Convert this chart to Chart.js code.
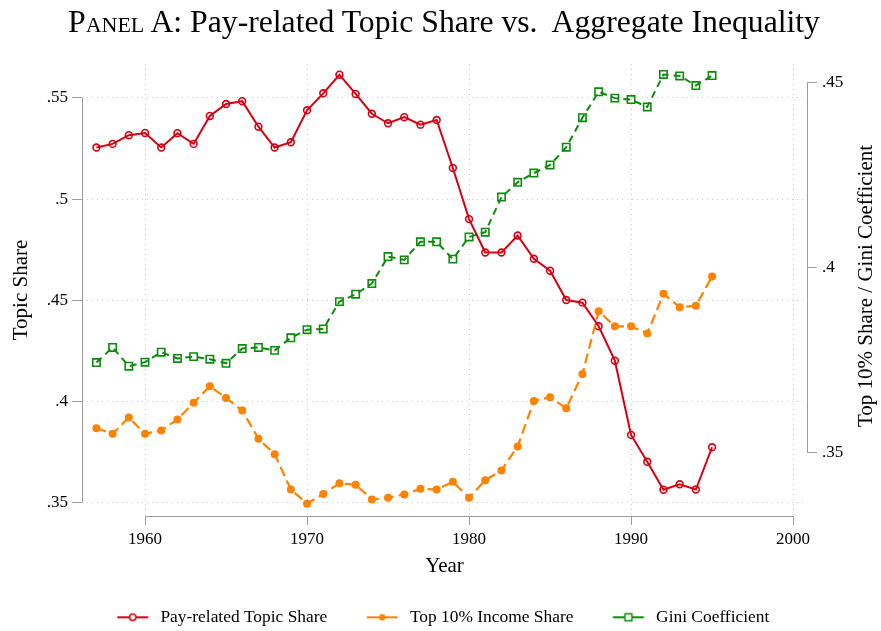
<!DOCTYPE html>
<html>
<head>
<meta charset="utf-8">
<title>Panel A: Pay-related Topic Share vs. Aggregate Inequality</title>
<script src="https://cdn.jsdelivr.net/npm/chart.js@4.4.1/dist/chart.umd.min.js"></script>
<style>
  html, body { margin: 0; padding: 0; background: #fff; }
  #wrap { position: relative; width: 881px; height: 631px; }
  #title {
    position: absolute; left: 0; top: 6px; width: 881px; box-sizing: border-box;
    padding-left: 7px; text-align: center; color: #000;
    font-family: "Liberation Serif", "Times New Roman", serif; font-size: 31.7px; line-height: 1;
  }
  .sc { font-variant: small-caps; }
</style>
</head>
<body>
<div id="wrap">
  <canvas id="chart" width="881" height="631"></canvas>
  <div id="title"><span class="sc">Panel</span> A: Pay-related Topic Share vs.&nbsp; Aggregate Inequality</div>
</div>
<script>
// values
const years = [1957, 1958, 1959, 1960, 1961, 1962, 1963, 1964, 1965, 1966,
  1967, 1968, 1969, 1970, 1971, 1972, 1973, 1974, 1975, 1976,
  1977, 1978, 1979, 1980, 1981, 1982, 1983, 1984, 1985, 1986,
  1987, 1988, 1989, 1990, 1991, 1992, 1993, 1994, 1995];

// left axis
const payTopicShare = [.5255, .5273, .5316, .5327, .5255, .5326, .5273, .5411, .547, .5484,
  .5358, .5255, .5281, .5439, .5523, .5615, .552, .5422, .5375, .5405,
  .5368, .5391, .5154, .4901, .4736, .4736, .482, .4705, .4646, .4501,
  .4488, .4371, .4201, .3834, .3701, .3563, .359, .3564, .3773];

// right axis
const top10Share = [.3565, .355, .3594, .355, .3559, .3589, .3634, .3679, .3647, .3613,
  .3537, .3495, .3399, .3361, .3387, .3416, .3412, .3372, .3377, .3386,
  .3401, .3399, .342, .3377, .3424, .3451, .3516, .3639, .3649, .3619,
  .3712, .3882, .3841, .3841, .3822, .3929, .3893, .3897, .3976];

const giniCoef = [.3743, .3784, .3733, .3744, .3771, .3754, .3759, .3752, .3741, .3781,
  .3784, .3776, .381, .3832, .3834, .3908, .3928, .3957, .403, .4021,
  .407, .407, .4023, .4083, .4096, .4191, .4231, .4256, .4278, .4326,
  .4406, .4476, .4459, .4455, .4435, .4523, .4519, .4493, .452];

const yearTicks = [1960, 1970, 1980, 1990, 2000];
const topicTicks = [.35, .4, .45, .5, .55];
const inequalityTicks = [.35, .4, .45];
const seriesNames = ['Pay-related Topic Share', 'Top 10% Income Share', 'Gini Coefficient'];
const rightTitle = 'Top 10% Share / Gini Coefficient';

const serif = '"Liberation Serif", "Times New Roman", serif';
const RED = '#d50012', ORANGE = '#ff8200', GREEN = '#0c8a0c';
const AXIS = '#9c9c9c', GRID = '#cbcbcb';
const PLOT = { left: 82, right: 807, top: 64, bottom: 516 };
const PAD = { top: 64, left: 0, right: 30, bottom: -5 };

const noLeadZero = v => String(v).replace(/^0\./, '.');
const pairs = vals => years.map((yr, i) => ({ x: yr, y: vals[i] }));
const fixTicks = list => scale => { scale.ticks = list.map(v => ({ value: v })); };

// line + marker sample for the legend
function swatch(ds) {
  const c = document.createElement('canvas');
  c.width = 70; c.height = 14;
  const g = c.getContext('2d');
  g.strokeStyle = ds.borderColor;
  g.lineWidth = 2;
  g.beginPath(); g.moveTo(35.5, 7); g.lineTo(66.5, 7); g.stroke();
  g.lineWidth = 1.5;
  if (ds.pointStyle === 'rect') {
    g.fillStyle = '#fff';
    g.fillRect(47.5, 3.5, 7, 7);
    g.strokeRect(47.5, 3.5, 7, 7);
  } else {
    g.beginPath(); g.arc(51, 7, 3.2, 0, Math.PI * 2);
    if (ds.pointBorderWidth === 0) { g.fillStyle = ds.borderColor; g.fill(); }
    else { g.fillStyle = '#fff'; g.fill(); g.stroke(); }
  }
  return c;
}

const stataFrame = {
  id: 'stataFrame',
  beforeDatasetsDraw(chart) {
    const { ctx, chartArea, scales: { x, yL, yR } } = chart;
    ctx.save();
    ctx.strokeStyle = AXIS;
    ctx.lineWidth = 1;
    ctx.beginPath();
    const lx = chartArea.left + 0.5, rx = chartArea.right + 0.5, by = chartArea.bottom + 0.5;
    ctx.moveTo(lx, yL.getPixelForValue(topicTicks[topicTicks.length - 1]));
    ctx.lineTo(lx, yL.getPixelForValue(topicTicks[0]));
    ctx.moveTo(rx, yR.getPixelForValue(inequalityTicks[inequalityTicks.length - 1]));
    ctx.lineTo(rx, yR.getPixelForValue(inequalityTicks[0]));
    ctx.moveTo(x.getPixelForValue(yearTicks[0]), by);
    ctx.lineTo(x.getPixelForValue(yearTicks[yearTicks.length - 1]), by);
    ctx.stroke();
    ctx.restore();
  },
  afterDraw(chart) {
    const { ctx, chartArea } = chart;
    ctx.save();
    ctx.translate(chartArea.right + 59, (chartArea.top + chartArea.bottom) / 2 - 4);
    ctx.rotate(-Math.PI / 2);
    ctx.font = '21px ' + serif;
    ctx.fillStyle = '#000';
    ctx.textAlign = 'center';
    ctx.textBaseline = 'middle';
    ctx.fillText(rightTitle, 0, 0);
    ctx.restore();
  }
};

const tickFont = { family: serif, size: 17 };
const gridBase = { color: GRID, borderDash: [1, 4], tickColor: AXIS, tickBorderDash: [], tickWidth: 1 };

new Chart(document.getElementById('chart'), {
  type: 'line',
  data: {
    datasets: [
      {
        label: seriesNames[0], data: pairs(payTopicShare), yAxisID: 'yL', order: 2,
        borderColor: RED, borderWidth: 2, pointStyle: 'circle', pointRadius: 3.4,
        pointBorderWidth: 1.6, pointBorderColor: RED, pointBackgroundColor: 'rgba(255,255,255,0)'
      },
      {
        label: seriesNames[1], data: pairs(top10Share), yAxisID: 'yR', order: 1,
        borderColor: ORANGE, borderWidth: 2.2, borderDash: [10, 5], pointStyle: 'circle', pointRadius: 4,
        pointBorderWidth: 0, pointBackgroundColor: ORANGE
      },
      {
        label: seriesNames[2], data: pairs(giniCoef), yAxisID: 'yR', order: 0,
        borderColor: GREEN, borderWidth: 2, borderDash: [7, 5], pointStyle: 'rect', pointRadius: 5.2,
        pointBorderWidth: 1.6, pointBorderColor: GREEN, pointBackgroundColor: 'rgba(255,255,255,0)'
      }
    ]
  },
  options: {
    responsive: false,
    devicePixelRatio: 1,
    animation: false,
    events: [],
    layout: { padding: PAD },
    elements: { line: { tension: 0 } },
    scales: {
      x: {
        type: 'linear', position: 'bottom',
        min: 1956.11, max: 2000.86,
        afterBuildTicks: fixTicks(yearTicks),
        afterFit: s => { s.height = s.chart.height - PAD.bottom - s.chart.legend.height - PLOT.bottom; },
        grid: { ...gridBase, tickLength: 9 },
        border: { display: false, dash: [1, 4] },
        ticks: { font: tickFont, color: '#000', padding: 4, maxRotation: 0, callback: v => String(v) },
        title: { display: true, text: 'Year', color: '#000', font: { family: serif, size: 21 }, padding: { top: 0, bottom: 25.4 } }
      },
      yL: {
        type: 'linear', position: 'left',
        min: .3433, max: .5668,
        afterBuildTicks: fixTicks(topicTicks),
        afterFit: s => { s.width = PLOT.left - PAD.left; },
        grid: { ...gridBase, tickLength: 10 },
        border: { display: false, dash: [1, 4] },
        ticks: { font: tickFont, color: '#000', padding: 4, callback: v => noLeadZero(v) },
        title: { display: true, text: 'Topic Share', color: '#000', font: { family: serif, size: 21 }, padding: { top: 8.4, bottom: 0 } }
      },
      yR: {
        type: 'linear', position: 'right',
        min: .33275, max: .45514,
        afterBuildTicks: fixTicks(inequalityTicks),
        afterFit: s => { s.width = s.chart.width - PAD.right - PLOT.right; },
        grid: { ...gridBase, drawOnChartArea: false, tickLength: 10 },
        border: { display: false },
        ticks: { font: tickFont, color: '#000', padding: 5, callback: v => noLeadZero(v) },
        title: { display: false }
      }
    },
    plugins: {
      tooltip: { enabled: false },
      legend: {
        position: 'bottom',
        labels: {
          usePointStyle: true,
          pointStyleWidth: 70,
          padding: 4,
          color: '#000',
          font: { family: serif, size: 17.4 },
          generateLabels: chart => chart.data.datasets.map((ds, i) => ({
            text: ds.label, pointStyle: swatch(ds), datasetIndex: i, hidden: false,
            fillStyle: 'rgba(0,0,0,0)', strokeStyle: 'rgba(0,0,0,0)', lineWidth: 0, fontColor: '#000'
          }))
        }
      }
    }
  },
  plugins: [stataFrame]
});
</script>
</body>
</html>
